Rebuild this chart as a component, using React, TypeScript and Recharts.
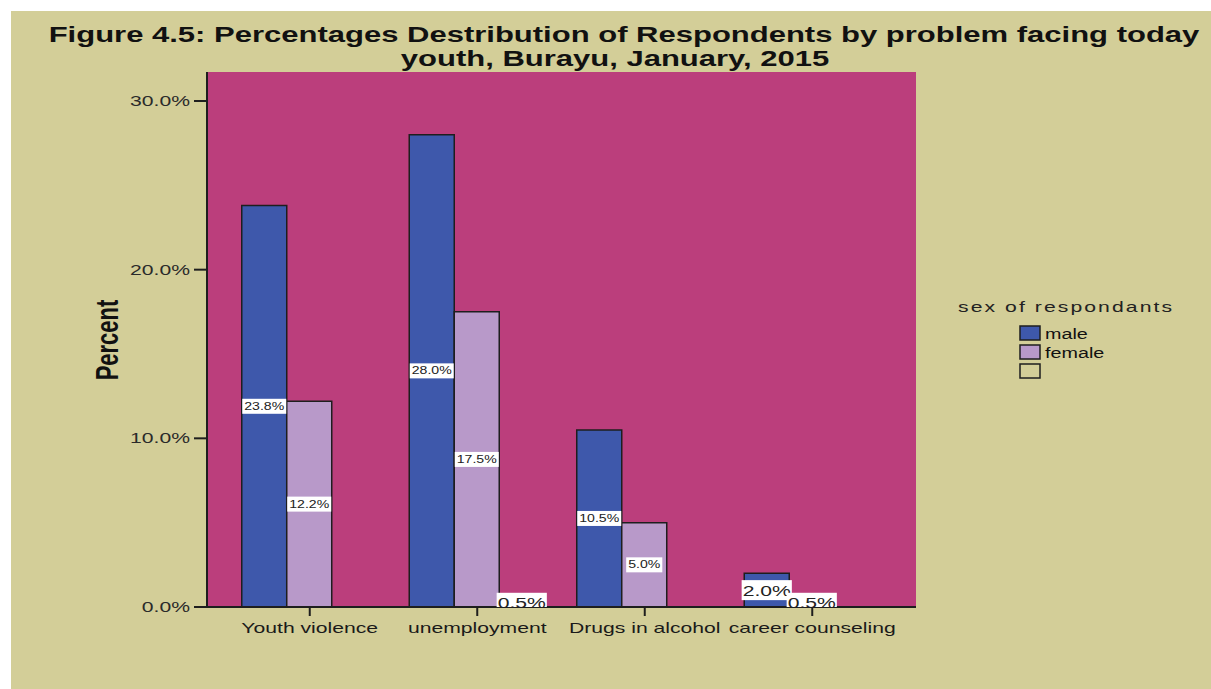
import React from 'react';
import {
  BarChart,
  Bar,
  XAxis,
  YAxis,
  CartesianGrid,
  LabelList,
} from 'recharts';

// values
const categories = ['Youth violence', 'unemployment', 'Drugs in alcohol', 'career counseling'];
const maleValues = [23.8, 28.0, 10.5, 2.0];
const femaleValues = [12.2, 17.5, 5.0, 0.5];
const blankValues = [null, 0.5, null, null];
const yTicks = [0, 10, 20, 30];

const data = categories.map((name, i) => ({
  name,
  male: maleValues[i],
  female: femaleValues[i],
  blank: blankValues[i],
}));

const FONT = '"Liberation Sans", Arial, sans-serif';
const STRETCH = 1.41; // the original image is stretched horizontally
const BG = '#D3CE98';
const PLOT = '#BB3E7C';
const MALE = '#3E58AB';
const FEMALE = '#B899C9';
const INK = '#1e1e1e';

// rough Arial advance widths (em) to size the white label boxes
const charW = (c: string) => (c === '.' ? 0.278 : c === '%' ? 0.889 : 0.556);
const textWidth = (s: string, fs: number) =>
  s.split('').reduce((a, c) => a + charW(c), 0) * fs * STRETCH;

const XTick = ({ x, y, payload }: any) => (
  <text
    transform={`translate(${x},${y + 15}) scale(${STRETCH},1)`}
    textAnchor="middle"
    fontFamily={FONT}
    fontSize={15}
    fill="#1a1a1a"
  >
    {payload.value}
  </text>
);

const YTick = ({ x, y, payload }: any) => (
  <text
    transform={`translate(${x},${y + 5}) scale(${STRETCH},1)`}
    textAnchor="end"
    fontFamily={FONT}
    fontSize={15}
    fill="#2a2a2a"
  >
    {`${payload.value.toFixed(1)}%`}
  </text>
);

const makeLabel = (series: string) => (props: any) => {
  const { x, y, width, height, value, index } = props;
  if (value == null) return null;
  const big = value < 3;
  const fs = big ? 15 : 10;
  const txt = `${Number(value).toFixed(1)}%`;
  const boxW = textWidth(txt, fs) + (big ? 2 : 4);
  const boxH = fs + 5;
  const cx = x + width / 2;
  const cy = y + height / 2;
  const clipId = `clip-${series}-${index}`;
  return (
    <g>
      <defs>
        <clipPath id={clipId}>
          <rect x={cx - 100} y={0} width={200} height={y + height} />
        </clipPath>
      </defs>
      <g clipPath={`url(#${clipId})`}>
        <rect x={cx - boxW / 2} y={cy - boxH / 2} width={boxW} height={boxH} fill="#ffffff" />
        <text
          transform={`translate(${cx},${cy + fs * 0.36}) scale(${STRETCH},1)`}
          textAnchor="middle"
          fontFamily={FONT}
          fontSize={fs}
          fill="#222"
        >
          {txt}
        </text>
      </g>
    </g>
  );
};

const legendItems = [
  { label: 'male', color: MALE },
  { label: 'female', color: FEMALE },
  { label: '', color: BG },
];

export default function App() {
  return (
    <div
      style={{
        position: 'absolute',
        left: 11,
        top: 11,
        width: 1200,
        height: 678,
        background: BG,
      }}
    >
      <BarChart
        width={1200}
        height={678}
        data={data}
        margin={{ top: 61, right: 295, bottom: 42, left: 0 }}
        barCategoryGap="9.4%"
        barGap={0}
      >
        <CartesianGrid fill={PLOT} horizontal={false} vertical={false} />
        <XAxis
          dataKey="name"
          padding={{ left: 19, right: 20 }}
          height={40}
          tickSize={9}
          tickMargin={2}
          tick={<XTick />}
          axisLine={{ stroke: INK, strokeWidth: 2 }}
          tickLine={{ stroke: INK, strokeWidth: 2 }}
          interval={0}
        />
        <XAxis
          xAxisId="top"
          orientation="top"
          dataKey="name"
          height={0}
          tick={false}
          tickLine={false}
          axisLine={{ stroke: INK, strokeWidth: 2 }}
        />
        <YAxis
          width={196}
          domain={[0, 31.72]}
          ticks={yTicks}
          allowDataOverflow
          tickSize={13}
          tickMargin={4}
          tick={<YTick />}
          axisLine={{ stroke: INK, strokeWidth: 2 }}
          tickLine={{ stroke: INK, strokeWidth: 2 }}
        />
        <YAxis
          yAxisId="right"
          orientation="right"
          width={0}
          tick={false}
          tickLine={false}
          axisLine={{ stroke: INK, strokeWidth: 2 }}
        />
        <Bar dataKey="male" fill={MALE} stroke={INK} strokeWidth={1.5} isAnimationActive={false}>
          <LabelList dataKey="male" content={makeLabel('male')} />
        </Bar>
        <Bar dataKey="female" fill={FEMALE} stroke={INK} strokeWidth={1.5} isAnimationActive={false}>
          <LabelList dataKey="female" content={makeLabel('female')} />
        </Bar>
        <Bar dataKey="blank" fill={BG} stroke={INK} strokeWidth={1.5} isAnimationActive={false}>
          <LabelList dataKey="blank" content={makeLabel('blank')} />
        </Bar>
      </BarChart>

      <svg
        width={1200}
        height={678}
        style={{ position: 'absolute', left: 0, top: 0, pointerEvents: 'none' }}
      >
        <g fontFamily={FONT} fontWeight="bold" fontSize={22} fill="#111">
          <text transform={`translate(613,31) scale(${STRETCH},1)`} textAnchor="middle">
            Figure 4.5: Percentages Destribution of Respondents by problem facing today
          </text>
          <text transform={`translate(604,55) scale(${STRETCH},1)`} textAnchor="middle">
            youth, Burayu, January, 2015
          </text>
          <text transform={`translate(107,329) scale(${STRETCH},1) rotate(-90)`} textAnchor="middle">
            Percent
          </text>
        </g>
        <text
          transform={`translate(947,301) scale(${STRETCH},1)`}
          fontFamily={FONT}
          fontSize={15}
          fill="#222"
          textLength={214 / STRETCH}
          lengthAdjust="spacing"
        >
          sex of respondants
        </text>
        {legendItems.map((item, i) => (
          <g key={i}>
            <rect
              x={1009}
              y={315 + i * 19}
              width={20}
              height={14}
              fill={item.color}
              stroke={INK}
              strokeWidth={1.5}
            />
            <text
              transform={`translate(1034,${328 + i * 19}) scale(${STRETCH},1)`}
              fontFamily={FONT}
              fontSize={14}
              fill="#111"
            >
              {item.label}
            </text>
          </g>
        ))}
      </svg>
    </div>
  );
}
